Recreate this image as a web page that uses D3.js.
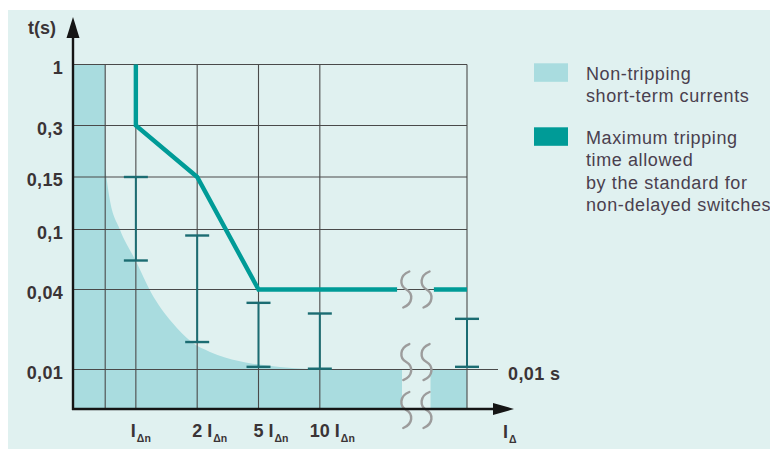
<!DOCTYPE html>
<html>
<head>
<meta charset="utf-8">
<script src="https://cdn.jsdelivr.net/npm/d3@7/dist/d3.min.js"></script>
<style>
  html, body { margin: 0; padding: 0; background: #ffffff; }
  svg { display: block; }
  text { font-family: "Liberation Sans", Arial, Helvetica, sans-serif; }
</style>
</head>
<body>
<svg id="chart" width="770" height="449"></svg>
<script>
// ---- data -------------------------------------------------------------
// Tripping time axis (seconds); 0 marks the current axis baseline
const timeTicks = [1, 0.3, 0.15, 0.1, 0.04, 0.01];
const timeTickLabels = ["1", "0,3", "0,15", "0,1", "0,04", "0,01"];

// Current axis: position index of each multiple of the rated residual current
const currentTicks = [1, 2, 3, 4];
const currentMultipliers = ["", "2", "5", "10"];

// Vertical grid columns (position index); 6.4 is the far right edge
const gridColumns = [0.5, 1, 2, 3, 4, 6.4];

// Axis break (position index)
const breakFillFrom = 5.34, breakFillTo = 5.805;
const breakLineFrom = 5.26, breakLineTo = 5.86;
const breakMarks = [5.41, 5.74];
const breakLevels = [0.04, 0.0128, 0];

// Maximum tripping time allowed (non-delayed switches)
const maxTripTime = [[1, 1], [1, 0.3], [2, 0.15], [3, 0.04], [breakLineFrom, 0.04]];
const maxTripTimeTail = [[breakLineTo, 0.04], [6.4, 0.04]];

// Non-tripping short-term current boundary
const nonTripEdge = [
  [0.5, 0.176], [0.57, 0.13], [0.74, 0.1], [1.0, 0.0685], [1.25, 0.0388],
  [1.585, 0.0278], [1.909, 0.0203], [2.209, 0.0166], [2.454, 0.0145],
  [2.904, 0.0122], [3.35, 0.0109], [3.84, 0.0102], [4.17, 0.01]
];

// Measured tripping time spread at each test current
const tripSpread = [
  { x: 1, lo: 0.069, hi: 0.15 },
  { x: 2, lo: 0.0203, hi: 0.094 },
  { x: 3, lo: 0.011, hi: 0.035 },
  { x: 4, lo: 0.0103, hi: 0.031 },
  { x: 6.4, lo: 0.011, hi: 0.029 }
];

const legendItems = [
  { color: "#a9dcdf", lines: ["Non-tripping", "short-term currents"] },
  { color: "#009b97", lines: ["Maximum tripping", "time allowed", "by the standard for", "non-delayed switches"] }
];

// ---- scales -----------------------------------------------------------
const x = d3.scaleLinear().domain([-0.025, 6.4]).range([73, 467]);
const y = d3.scaleLinear()
  .domain([0, 0.01, 0.04, 0.1, 0.15, 0.3, 1])
  .range([409, 369.5, 289.5, 229.5, 177, 125.5, 64.5]);

const svg = d3.select("#chart");

// panel background
svg.append("rect").attr("x", 8).attr("y", 10).attr("width", 762).attr("height", 439)
  .attr("fill", "#e0f1f0");

// ---- non-tripping area -------------------------------------------------
const curvePath = d3.line().x(d => x(d[0])).y(d => y(d[1])).curve(d3.curveMonotoneX)(nonTripEdge);
const areaPath =
  `M${x(-0.025)},${y(0)} L${x(-0.025)},${y(1)} L${x(0.5)},${y(1)} ` +
  curvePath.replace(/^M/, "L") +
  ` L${x(breakFillFrom)},${y(0.01)} L${x(breakFillFrom)},${y(0)} Z`;
svg.append("path").attr("d", areaPath).attr("fill", "#a9dcdf");
svg.append("rect")
  .attr("x", x(breakFillTo)).attr("y", y(0.01))
  .attr("width", x(6.4) - x(breakFillTo)).attr("height", y(0) - y(0.01))
  .attr("fill", "#a9dcdf");

// ---- grid ---------------------------------------------------------------
const grid = svg.append("g").attr("stroke", "#4a4a4a").attr("stroke-width", 1.1);
grid.selectAll("line.h").data(timeTicks).join("line")
  .attr("x1", x(-0.025)).attr("x2", d => d === 0.01 ? 498 : x(6.4))
  .attr("y1", d => y(d)).attr("y2", d => y(d));
grid.selectAll("line.v").data(gridColumns).join("line")
  .attr("x1", d => x(d)).attr("x2", d => x(d))
  .attr("y1", y(1)).attr("y2", y(0));

// ---- tripping time spread ---------------------------------------------
const spread = svg.append("g").attr("stroke", "#1b6c72");
spread.selectAll("line.bar").data(tripSpread).join("line")
  .attr("x1", d => x(d.x)).attr("x2", d => x(d.x))
  .attr("y1", d => y(d.hi)).attr("y2", d => y(d.lo))
  .attr("stroke-width", 2);
spread.selectAll("line.cap").data(tripSpread.flatMap(d => [[d.x, d.hi], [d.x, d.lo]])).join("line")
  .attr("x1", d => x(d[0]) - 12).attr("x2", d => x(d[0]) + 12)
  .attr("y1", d => y(d[1])).attr("y2", d => y(d[1]))
  .attr("stroke-width", 2.4);

// ---- maximum tripping time line ---------------------------------------
const tripLine = d3.line().x(d => x(d[0])).y(d => y(d[1]));
[maxTripTime, maxTripTimeTail].forEach(seg => {
  svg.append("path").attr("d", tripLine(seg))
    .attr("fill", "none").attr("stroke", "#009b97")
    .attr("stroke-width", 4.4).attr("stroke-linejoin", "miter");
});

// ---- axis break marks ---------------------------------------------------
const squiggle = (cx, cy) =>
  `M${cx + 3},${cy - 18} C${cx - 7},${cy - 14} ${cx - 7},${cy - 4} ${cx},${cy} ` +
  `C${cx + 7},${cy + 4} ${cx + 7},${cy + 14} ${cx - 3},${cy + 18}`;
const breaks = svg.append("g").attr("fill", "none").attr("stroke", "#9c9c9c")
  .attr("stroke-width", 2.4).attr("stroke-linecap", "round");
breakLevels.forEach(t => breakMarks.forEach(b => {
  breaks.append("path").attr("d", squiggle(x(b), y(t) + (t === 0 ? 1 : 0)));
}));

// ---- axes ---------------------------------------------------------------
const axis = svg.append("g");
axis.append("line").attr("x1", x(-0.025)).attr("x2", x(-0.025))
  .attr("y1", y(0) + 1).attr("y2", 36)
  .attr("stroke", "#151515").attr("stroke-width", 2.4);
axis.append("path")
  .attr("d", `M${x(-0.025)},17 L${x(-0.025) + 6.5},38 L${x(-0.025) - 6.5},38 Z`)
  .attr("fill", "#151515");
axis.append("line").attr("x1", x(-0.025) - 1).attr("x2", 495)
  .attr("y1", y(0)).attr("y2", y(0))
  .attr("stroke", "#151515").attr("stroke-width", 2.4);
axis.append("path")
  .attr("d", `M514,${y(0)} L493,${y(0) - 6} L493,${y(0) + 6} Z`)
  .attr("fill", "#151515");

// time tick labels
svg.append("g").selectAll("text").data(timeTicks).join("text")
  .attr("x", 63).attr("y", d => y(d) + 9.2)
  .attr("text-anchor", "end")
  .attr("font-size", 18).attr("font-weight", "bold").attr("letter-spacing", 0.3)
  .attr("fill", "#3a3436")
  .text((d, i) => timeTickLabels[i]);

svg.append("text").attr("x", 28).attr("y", 33.5)
  .attr("font-size", 18).attr("font-weight", "bold").attr("fill", "#3a3436")
  .text("t(s)");

svg.append("text").attr("x", 508).attr("y", y(0.01) + 10)
  .attr("font-size", 18).attr("font-weight", "bold").attr("letter-spacing", 0.4)
  .attr("fill", "#3a3436")
  .text("0,01 s");

// current tick labels: "n IΔn"
const xl = svg.append("g").attr("font-weight", "bold").attr("fill", "#3a3436");
currentTicks.forEach((p, i) => {
  const m = currentMultipliers[i];
  const t = xl.append("text")
    .attr("x", x(p) - (m.length === 0 ? 5 : m.length * 5))
    .attr("y", 436.7).attr("font-size", 18);
  t.append("tspan").text(m ? m + " I" : "I");
  t.append("tspan").attr("font-size", 10.5).attr("dy", 5).attr("dx", 1).text("Δn");
});
const ia = xl.append("text").attr("x", 503).attr("y", 438).attr("font-size", 18);
ia.append("tspan").text("I");
ia.append("tspan").attr("font-size", 10.5).attr("dy", 4.5).attr("dx", 1).text("Δ");

// ---- legend -------------------------------------------------------------
const legendTops = [63.3, 127.3];
const legend = svg.append("g");
legendItems.forEach((item, i) => {
  legend.append("rect").attr("x", 534).attr("y", legendTops[i])
    .attr("width", 34).attr("height", 18.5).attr("fill", item.color);
  const txt = legend.append("text").attr("x", 586).attr("y", legendTops[i] + 16.7)
    .attr("font-size", 18).attr("letter-spacing", 0.6).attr("fill", "#4a3f4e");
  item.lines.forEach((l, j) => {
    txt.append("tspan").attr("x", 586).attr("dy", j === 0 ? 0 : 22.3).text(l);
  });
});
</script>
</body>
</html>
